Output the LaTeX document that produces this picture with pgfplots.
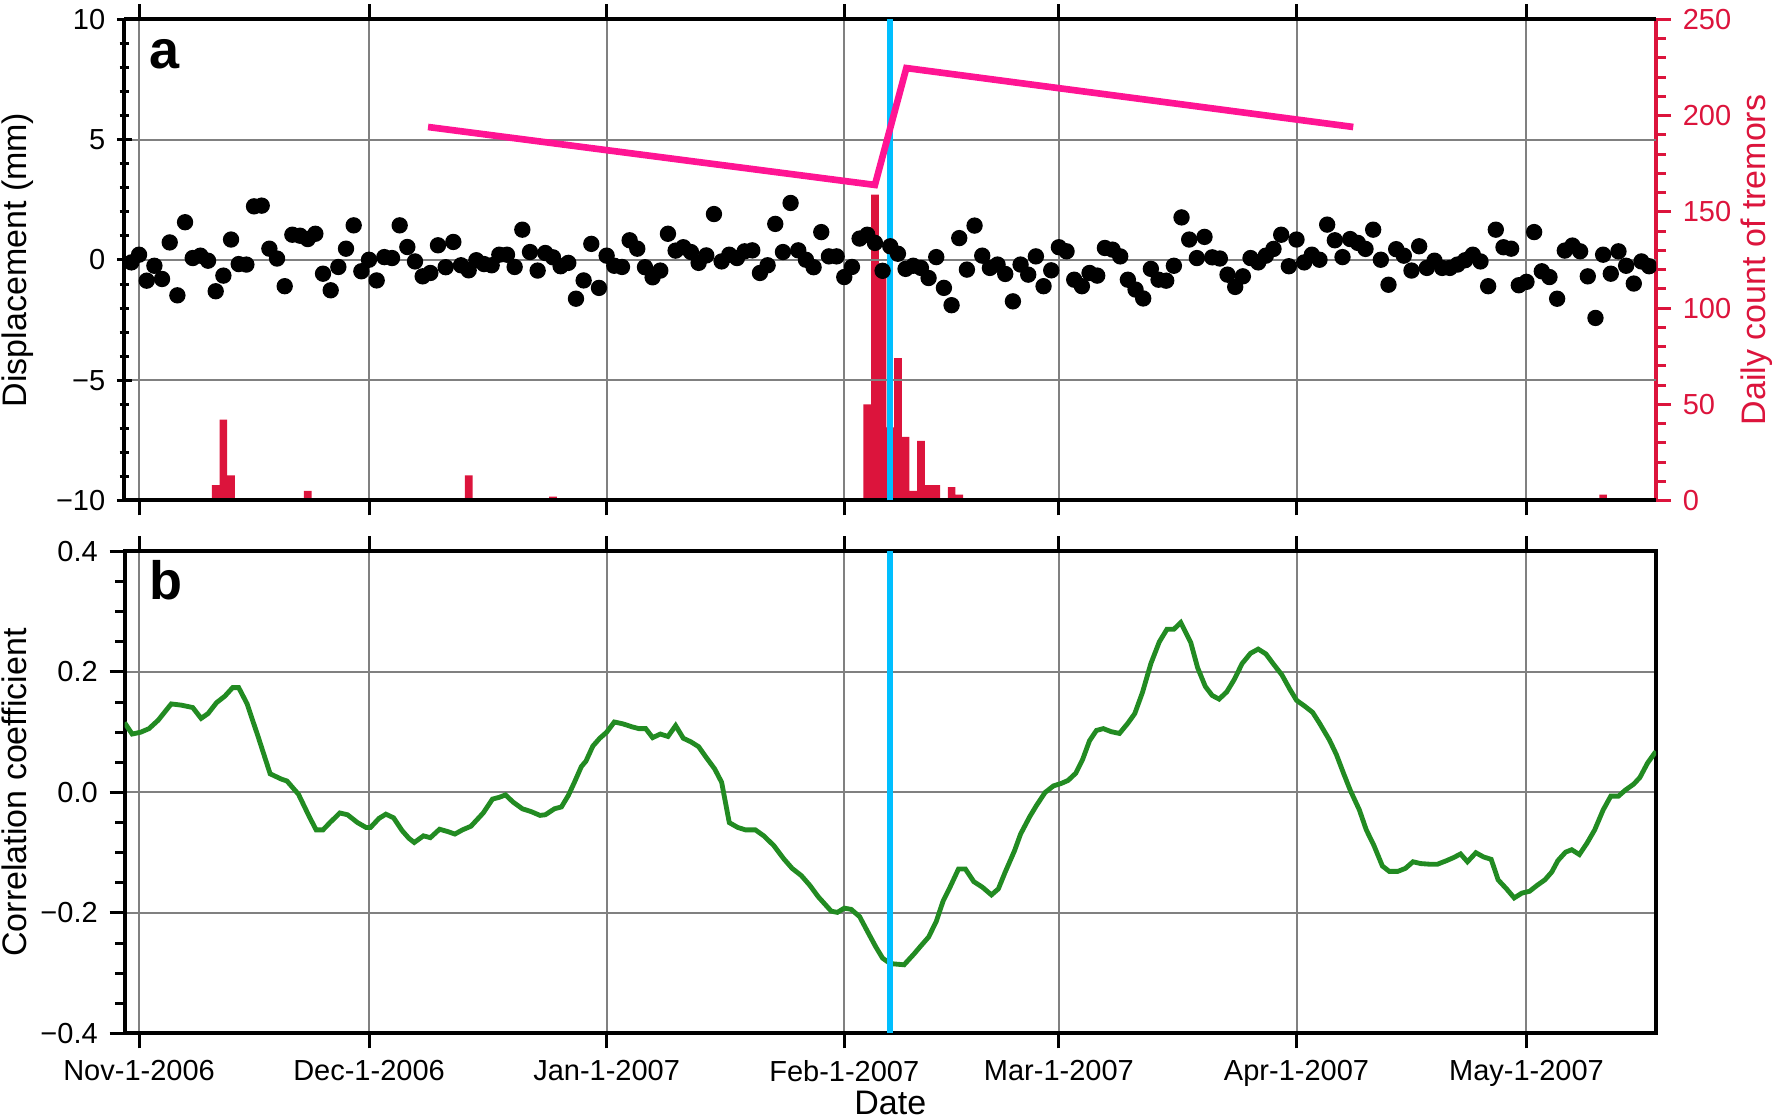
\documentclass[border=0pt]{standalone}
\usepackage{fontspec}
\setmainfont{Liberation Sans}
\usepackage{pgfplots}
\usepackage{pgfplotstable}
\pgfplotsset{compat=1.18}

\definecolor{tremor}{RGB}{220,20,60}
\definecolor{slip}{RGB}{255,20,147}
\definecolor{event}{RGB}{0,191,255}
\definecolor{corr}{RGB}{34,139,34}
\definecolor{gridgray}{RGB}{128,128,128}

% days counted from Nov-1-2006
\pgfplotstableread{
day disp
-2 0.08
-1 -0.10
0 0.22
1 -0.86
2 -0.24
3 -0.79
4 0.73
5 -1.47
6 1.57
7 0.08
8 0.18
9 -0.03
10 -1.30
11 -0.65
12 0.85
13 -0.17
14 -0.19
15 2.23
16 2.26
17 0.47
18 0.06
19 -1.09
20 1.05
21 1.01
22 0.87
23 1.09
24 -0.57
25 -1.26
26 -0.29
27 0.47
28 1.44
29 -0.47
30 0.01
31 -0.85
32 0.12
33 0.08
34 1.44
35 0.54
36 -0.06
37 -0.68
38 -0.54
39 0.61
40 -0.30
41 0.75
42 -0.22
43 -0.43
44 -0.01
45 -0.17
46 -0.22
47 0.22
48 0.22
49 -0.29
50 1.26
51 0.33
52 -0.44
53 0.29
54 0.11
55 -0.26
56 -0.12
57 -1.61
58 -0.85
59 0.67
60 -1.16
61 0.18
62 -0.24
63 -0.29
64 0.82
65 0.47
66 -0.30
67 -0.72
68 -0.44
69 1.09
70 0.39
71 0.53
72 0.33
73 -0.12
74 0.19
75 1.91
76 -0.06
77 0.22
78 0.08
79 0.36
80 0.40
81 -0.54
82 -0.22
83 1.50
84 0.33
85 2.37
86 0.40
87 0.01
88 -0.30
89 1.16
90 0.15
91 0.15
92 -0.71
93 -0.29
94 0.89
95 1.05
96 0.71
97 -0.45
98 0.57
99 0.26
100 -0.37
101 -0.24
102 -0.33
103 -0.75
104 0.12
105 -1.16
106 -1.88
107 0.91
108 -0.40
109 1.43
110 0.18
111 -0.33
112 -0.19
113 -0.58
114 -1.72
115 -0.19
116 -0.61
117 0.15
118 -1.09
119 -0.43
120 0.53
121 0.36
122 -0.82
123 -1.09
124 -0.54
125 -0.65
126 0.50
127 0.43
128 0.15
129 -0.82
130 -1.23
131 -1.60
132 -0.37
133 -0.82
134 -0.86
135 -0.24
136 1.77
137 0.85
138 0.08
139 0.96
140 0.11
141 0.06
142 -0.61
143 -1.12
144 -0.68
145 0.08
146 -0.10
147 0.18
148 0.46
149 1.05
150 -0.26
151 0.85
152 -0.10
153 0.22
154 0.01
155 1.47
156 0.82
157 0.12
158 0.87
159 0.71
160 0.46
161 1.26
162 0.01
163 -1.03
164 0.45
165 0.18
166 -0.44
167 0.57
168 -0.33
169 -0.03
170 -0.33
171 -0.33
172 -0.19
173 -0.01
174 0.22
175 -0.06
176 -1.09
177 1.26
178 0.53
179 0.47
180 -1.05
181 -0.91
182 1.16
183 -0.47
184 -0.71
185 -1.61
186 0.39
187 0.60
188 0.36
189 -0.68
190 -2.41
191 0.22
192 -0.57
193 0.36
194 -0.24
195 -0.98
196 -0.06
197 -0.26
198 -1.33
}\dispdata

\pgfplotstableread{
day count
10 8
11 42
12 13
22 5
43 13
54 2
95 50
96 159
97 120
98 38
99 74
100 33
101 5
102 31
103 8
104 8
106 7
107 3
191 3
}\tremordata

\pgfplotstableread{
day cc
-1.9 0.116
-0.9 0.097
0.2 0.100
1.3 0.106
2.5 0.120
4.2 0.147
5.5 0.145
7.0 0.141
8.1 0.123
9.0 0.131
10.1 0.149
11.2 0.160
12.2 0.174
13.0 0.174
14.1 0.147
15.6 0.090
17.1 0.031
18.6 0.022
19.3 0.019
20.8 -0.003
22.2 -0.040
23.1 -0.062
24.0 -0.062
24.9 -0.050
26.2 -0.034
27.2 -0.037
28.5 -0.050
29.6 -0.058
30.2 -0.058
31.3 -0.043
32.2 -0.036
33.2 -0.042
34.3 -0.063
35.2 -0.076
35.9 -0.083
37.1 -0.072
38.0 -0.075
39.2 -0.061
40.3 -0.065
41.2 -0.069
42.2 -0.062
43.3 -0.056
44.9 -0.034
46.1 -0.011
47.0 -0.008
47.8 -0.004
48.8 -0.016
50.0 -0.027
51.2 -0.032
52.3 -0.038
53.0 -0.037
54.2 -0.027
55.1 -0.024
56.0 -0.005
56.8 0.017
57.7 0.043
58.3 0.052
59.2 0.077
60.1 0.090
61.0 0.100
62.0 0.117
63.1 0.114
64.3 0.109
65.2 0.106
66.1 0.106
67.0 0.091
68.0 0.097
69.0 0.093
70.0 0.111
71.0 0.090
72.0 0.084
73.0 0.076
74.0 0.058
75.1 0.039
76.0 0.017
77.0 -0.050
78.1 -0.058
79.1 -0.062
80.4 -0.062
81.5 -0.072
82.8 -0.088
84.1 -0.110
85.2 -0.126
86.4 -0.138
87.5 -0.154
88.6 -0.173
90.3 -0.197
91.1 -0.199
92.0 -0.192
92.9 -0.194
94.0 -0.206
95.0 -0.230
96.1 -0.256
97.0 -0.275
98.0 -0.284
99.8 -0.286
101.1 -0.268
101.9 -0.256
103.0 -0.240
104.0 -0.214
104.9 -0.180
105.8 -0.157
106.9 -0.127
107.8 -0.127
108.9 -0.148
110.0 -0.157
111.2 -0.170
112.1 -0.160
113.0 -0.132
114.2 -0.097
115.0 -0.069
116.2 -0.040
117.1 -0.021
118.2 0.000
119.3 0.011
120.3 0.015
121.2 0.020
122.2 0.032
123.1 0.055
124.0 0.086
124.9 0.103
125.8 0.106
126.8 0.101
127.9 0.098
129.0 0.115
129.9 0.131
130.9 0.166
132.0 0.214
133.1 0.250
134.1 0.271
135.0 0.271
135.9 0.282
137.2 0.249
138.1 0.207
139.1 0.176
140.0 0.161
140.9 0.155
141.9 0.167
142.9 0.188
143.9 0.214
145.0 0.231
146.0 0.238
147.0 0.230
148.0 0.213
149.1 0.195
150.1 0.172
151.0 0.153
152.1 0.143
153.1 0.133
154.0 0.115
155.3 0.087
156.2 0.063
157.1 0.033
158.0 0.004
159.2 -0.029
160.1 -0.062
161.1 -0.088
162.2 -0.122
163.1 -0.131
164.2 -0.131
165.2 -0.126
166.2 -0.115
167.2 -0.118
168.3 -0.119
169.4 -0.119
170.6 -0.113
171.5 -0.108
172.4 -0.102
173.3 -0.115
174.4 -0.100
175.4 -0.107
176.4 -0.111
177.3 -0.145
178.4 -0.160
179.4 -0.175
180.4 -0.167
181.4 -0.164
182.4 -0.154
183.4 -0.145
184.3 -0.132
185.1 -0.113
186.1 -0.099
186.9 -0.095
187.9 -0.103
188.9 -0.084
189.9 -0.062
191.0 -0.029
192.0 -0.006
193.0 -0.006
193.9 0.004
195.0 0.014
195.8 0.025
196.8 0.049
197.7 0.065
197.9 0.068
}\corrdata

\pgfplotsset{
  panel/.style={
    scale only axis, width=459.45pt,
    xmin=-1.9, xmax=197.9,
    xtick={0,30,61,92,120,151,181},
    tick align=outside,
    major tick length=4.5pt, minor tick length=2.85pt,
    tick style={black, line width=0.9pt},
    grid=major, major grid style={gridgray, line width=0.6pt},
    tick label style={font=\fontsize{8.7}{10}\selectfont},
    label style={font=\fontsize{10.2}{12}\selectfont, inner sep=0pt},
    /pgf/number format/assume math mode=true,
  },
}

\begin{document}
\begin{tikzpicture}
\useasboundingbox (0,0) rectangle (531.9pt,-336pt);

% tremor counts, right axis (drawn first so the bars sit underneath)
\begin{axis}[panel, at={(37.35pt,-5.85pt)}, anchor=north west, height=144.3pt,
  axis x line=none, axis y line*=right, grid=none,
  ymin=0, ymax=250, ytick={0,50,...,250}, minor y tick num=4,
  axis line style={tremor, line width=1.2pt, -},
  tick style={tremor, line width=0.9pt},
  yticklabel style={tremor},
  ylabel={Daily count of tremors},
  ylabel style={tremor, at={(axis description cs:1.0548,0.5)}, anchor=north}]
  \addplot[ybar, bar width=1, fill=tremor, draw=none] table[x=day, y=count] {\tremordata};
\end{axis}

% displacement
\begin{axis}[panel, at={(37.35pt,-5.85pt)}, anchor=north west, height=144.3pt,
  axis x line=box, axis y line=left, axis line style={black, line width=1.2pt, -},
  xticklabels={},
  ymin=-10, ymax=10, ytick={-10,-5,0,5,10}, yticklabels={−10,−5,0,5,10},
  minor y tick num=4,
  clip marker paths=true,
  ylabel={Displacement (mm)},
  ylabel style={at={(axis description cs:-0.0806,0.5)}, anchor=north}]
  \addplot[event, line width=1.7pt] coordinates {(98,-10) (98,10)};
  \addplot[slip, line width=2pt] coordinates {(37.7,5.53) (96.0,3.12) (100.1,7.98) (158.4,5.53)};
  \addplot[only marks, mark=*, mark size=2.25pt, black] table[x=day, y=disp] {\dispdata};
  \node[anchor=base west, inner sep=0pt, font=\bfseries\fontsize{16.2}{18}\selectfont]
    at (axis description cs:0.0157,0.899) {a};
\end{axis}

% correlation coefficient
\begin{axis}[panel, at={(37.35pt,-165.45pt)}, anchor=north west, height=144.6pt,
  axis line style={black, line width=1.2pt},
  ytick pos=left,
  xticklabels={Nov-1-2006,Dec-1-2006,Jan-1-2007,Feb-1-2007,Mar-1-2007,Apr-1-2007,May-1-2007},
  ymin=-0.4, ymax=0.4, ytick={-0.4,-0.2,0,0.2,0.4},
  yticklabels={−0.4,−0.2,0.0,0.2,0.4},
  minor y tick num=3,
  xlabel={Date},
  xlabel style={at={(axis description cs:0.5,-0.168)}, anchor=base},
  ylabel={Correlation coefficient},
  ylabel style={at={(axis description cs:-0.0806,0.5)}, anchor=north}]
  \addplot[corr, line width=1.45pt] table[x=day, y=cc] {\corrdata};
  \addplot[event, line width=1.7pt] coordinates {(98,-0.4) (98,0.4)};
  \node[anchor=base west, inner sep=0pt, font=\bfseries\fontsize{16.2}{18}\selectfont]
    at (axis description cs:0.0157,0.900) {b};
\end{axis}
\end{tikzpicture}
\end{document}
